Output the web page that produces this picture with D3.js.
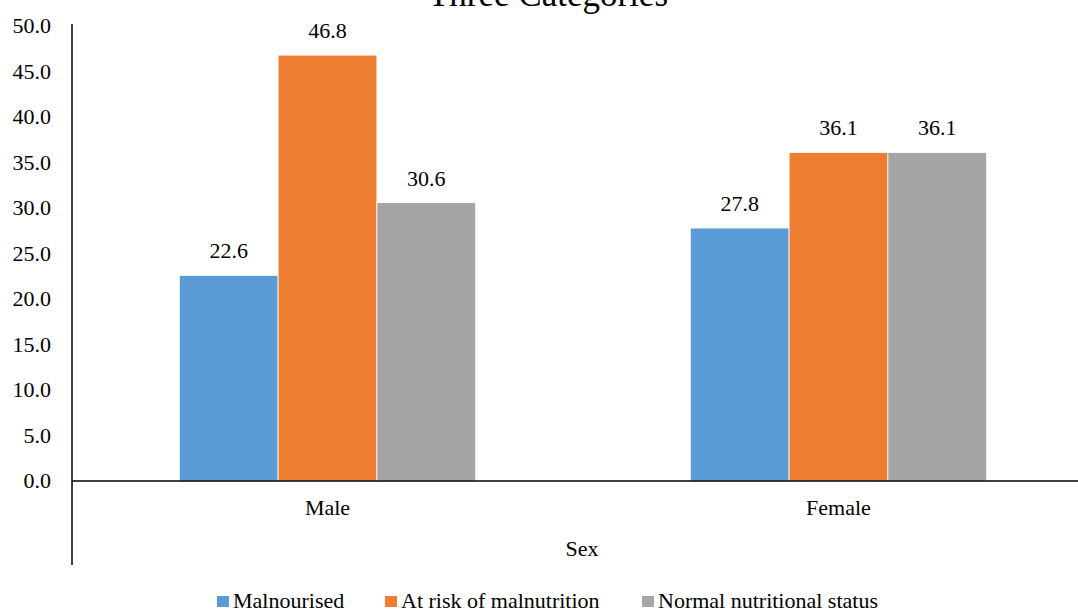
<!DOCTYPE html>
<html>
<head>
<meta charset="utf-8">
<script src="https://cdn.jsdelivr.net/npm/d3@7"></script>
<style>
  body { margin: 0; background: #fff; }
</style>
</head>
<body>
<svg id="chart" width="1078" height="611"></svg>
<script>
// Nutritional status by sex (%)
const categories = ["Male", "Female"];
const seriesNames = ["Malnourised", "At risk of malnutrition", "Normal nutritional status"];
const malnourished = [22.6, 27.8];
const atRisk = [46.8, 36.1];
const normalStatus = [30.6, 36.1];
const yTicks = [0, 5, 10, 15, 20, 25, 30, 35, 40, 45, 50];
const colors = ["#5b9bd5", "#ed7d31", "#a5a5a5"];

const seriesValues = [malnourished, atRisk, normalStatus];

const FONT = "'Liberation Serif', 'Times New Roman', serif";
const svg = d3.select("#chart");
const plotLeft = 72, plotRight = 1094, plotTop = 26, zeroY = 481;

const y = d3.scaleLinear().domain([0, 50]).range([zeroY, plotTop]);
const x0 = d3.scaleBand().domain(categories).range([plotLeft, plotRight]).paddingInner(0.42).paddingOuter(0.21);
const x1 = d3.scaleBand().domain(seriesNames).range([0, x0.bandwidth()]);

// Title (partly above the page edge)
svg.append("text")
  .attr("x", 548).attr("y", 6)
  .attr("text-anchor", "middle")
  .attr("font-family", FONT)
  .attr("font-size", 35)
  .text("Three Categories");

// Y axis tick labels
svg.append("g").selectAll("text")
  .data(yTicks).join("text")
  .attr("x", 51)
  .attr("y", d => y(d))
  .attr("dy", "0.32em")
  .attr("text-anchor", "end")
  .attr("font-family", FONT)
  .attr("font-size", 22)
  .text(d => d.toFixed(1));

// Bars
const groups = svg.append("g").selectAll("g")
  .data(categories).join("g")
  .attr("transform", c => `translate(${x0(c)},0)`);

groups.selectAll("rect")
  .data((c, i) => seriesNames.map((s, j) => ({ s, j, v: seriesValues[j][i] })))
  .join("rect")
  .attr("x", d => x1(d.s))
  .attr("y", d => y(d.v))
  .attr("width", x1.bandwidth())
  .attr("height", d => zeroY - y(d.v))
  .attr("fill", d => colors[d.j])
  .attr("stroke", "#fff")
  .attr("stroke-width", 0.8);

// Value labels
groups.selectAll("text")
  .data((c, i) => seriesNames.map((s, j) => ({ s, j, v: seriesValues[j][i] })))
  .join("text")
  .attr("x", d => x1(d.s) + x1.bandwidth() / 2)
  .attr("y", d => y(d.v) - 17)
  .attr("text-anchor", "middle")
  .attr("font-family", FONT)
  .attr("font-size", 22)
  .text(d => d.v.toFixed(1));

// Axis lines
svg.append("line")
  .attr("x1", plotLeft).attr("x2", 1078)
  .attr("y1", zeroY).attr("y2", zeroY)
  .attr("stroke", "#000").attr("stroke-width", 1.5);
svg.append("line")
  .attr("x1", plotLeft).attr("x2", plotLeft)
  .attr("y1", 24).attr("y2", 565)
  .attr("stroke", "#000").attr("stroke-width", 1.5);

// Category labels
svg.append("g").selectAll("text")
  .data(categories).join("text")
  .attr("x", c => x0(c) + x0.bandwidth() / 2)
  .attr("y", 515)
  .attr("text-anchor", "middle")
  .attr("font-family", FONT)
  .attr("font-size", 22)
  .text(c => c);

// Axis title
svg.append("text")
  .attr("x", 582).attr("y", 556)
  .attr("text-anchor", "middle")
  .attr("font-family", FONT)
  .attr("font-size", 22)
  .text("Sex");

// Legend
const legendX = [217, 385, 642];
const legend = svg.append("g").selectAll("g")
  .data(seriesNames).join("g")
  .attr("transform", (d, i) => `translate(${legendX[i]},596)`);
legend.append("rect")
  .attr("x", 0).attr("y", 0).attr("width", 12).attr("height", 11)
  .attr("fill", (d, i) => colors[i]);
legend.append("text")
  .attr("x", 16).attr("y", 12)
  .attr("font-family", FONT)
  .attr("font-size", 22)
  .text(d => d);
</script>
</body>
</html>
